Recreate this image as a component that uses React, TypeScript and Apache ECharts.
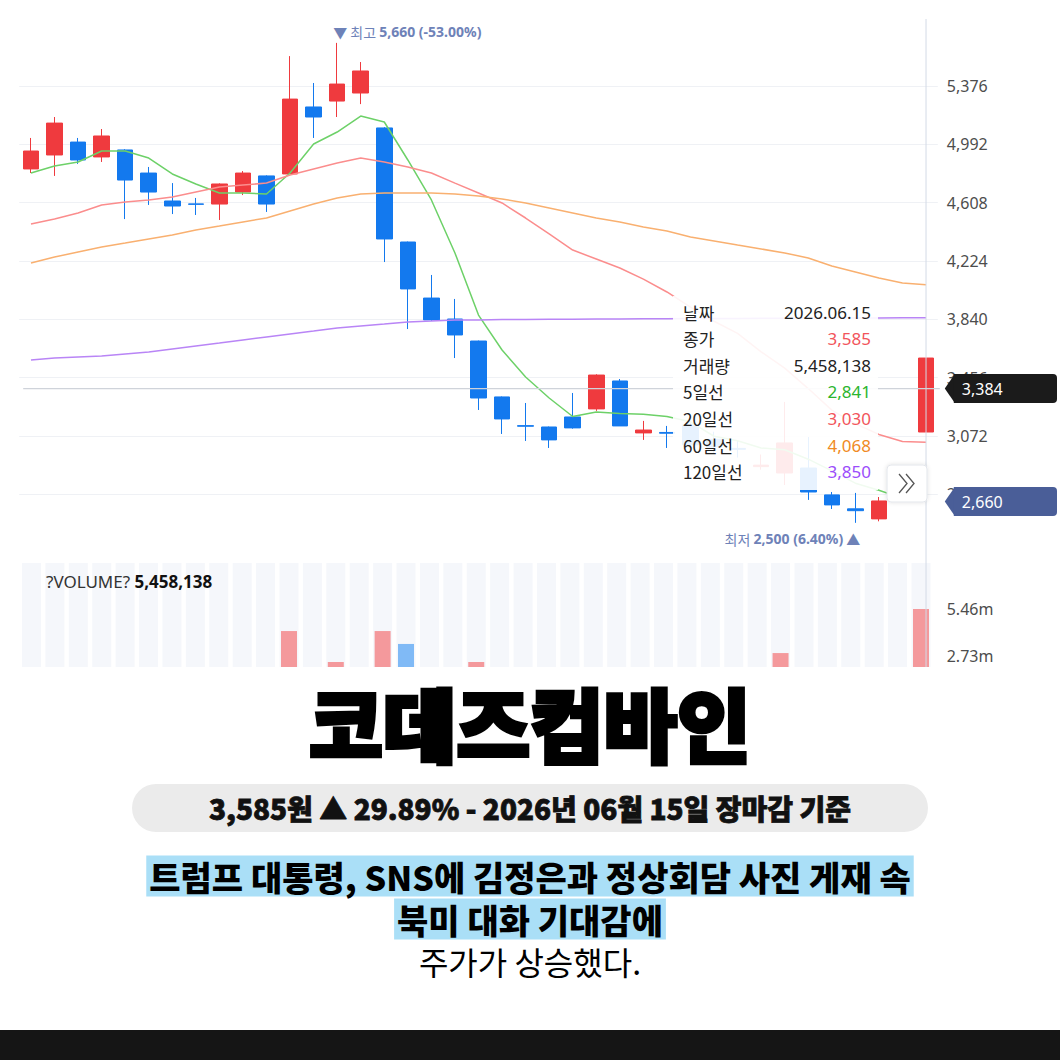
import React, { useEffect, useRef } from "react";
import * as echarts from "echarts";

// ---------- DATA ----------
const dates = [
  "2026.04.22", "2026.04.23", "2026.04.24", "2026.04.27", "2026.04.28", "2026.04.29", "2026.04.30",
  "2026.05.01", "2026.05.04", "2026.05.05", "2026.05.06", "2026.05.07", "2026.05.08", "2026.05.11",
  "2026.05.12", "2026.05.13", "2026.05.14", "2026.05.15", "2026.05.18", "2026.05.19", "2026.05.20",
  "2026.05.21", "2026.05.22", "2026.05.25", "2026.05.26", "2026.05.27", "2026.05.28", "2026.05.29",
  "2026.06.01", "2026.06.02", "2026.06.03", "2026.06.04", "2026.06.05", "2026.06.08", "2026.06.09",
  "2026.06.10", "2026.06.11", "2026.06.12", "2026.06.15",
];

// [open, close, low, high]
const ohlc = [
  [4830, 4948, 4803, 5034], [4922, 5132, 4784, 5172], [5007, 4889, 4863, 5034], [4909, 5047, 4876, 5093],
  [4955, 4757, 4500, 4960], [4803, 4678, 4593, 4843], [4619, 4586, 4533, 4737], [4600, 4597, 4527, 4639],
  [4599, 4731, 4494, 4735], [4678, 4803, 4658, 4816], [4784, 4599, 4547, 4788], [4797, 5290, 4797, 5573],
  [5238, 5172, 5034, 5396], [5277, 5389, 5172, 5660], [5330, 5475, 5257, 5534], [5100, 4369, 4217, 5105],
  [4349, 4040, 3776, 4352], [3980, 3836, 3830, 4132], [3842, 3737, 3585, 3974], [3697, 3322, 3243, 3700],
  [3329, 3184, 3085, 3332], [3140, 3136, 3039, 3289], [3131, 3046, 2993, 3134], [3197, 3125, 3120, 3355],
  [3250, 3473, 3237, 3478], [3434, 3138, 3138, 3447], [3092, 3111, 3046, 3171], [3095, 3090, 2993, 3138],
  [3144, 3013, 2990, 3160], [3050, 3000, 2960, 3100], [2990, 2984, 2930, 3040], [2870, 2880, 2850, 2950],
  [2828, 3026, 2749, 3296], [2861, 2703, 2651, 3065], [2684, 2618, 2591, 2703], [2592, 2580, 2500, 2697],
  [2526, 2644, 2510, 2670], [2660, 2760, 2650, 2870], [3098, 3585, 3098, 3585],
];

const ma5 = [
  4803, 4849, 4876, 4948, 4948, 4902, 4797, 4731, 4672, 4672, 4665, 4803, 4994, 5073, 5178, 5139, 4889, 4626,
  4277, 3868, 3638, 3460, 3322, 3200, 3230, 3220, 3215, 3200, 3165, 3070, 3040, 2993, 2981, 2919, 2842, 2761,
  2714, 2661, 2841,
];
const ma20 = [
  4468, 4500, 4540, 4593, 4612, 4626, 4645, 4678, 4711, 4724, 4737, 4790, 4830, 4869, 4902, 4876, 4843, 4803,
  4737, 4672, 4606, 4507, 4402, 4296, 4237, 4178, 4105, 4020, 3920, 3827, 3747, 3626, 3519, 3384, 3242, 3152,
  3082, 3035, 3030,
];
const ma60 = [
  4211, 4250, 4283, 4316, 4342, 4369, 4395, 4428, 4454, 4481, 4507, 4553, 4599, 4639, 4665, 4672, 4672, 4672,
  4665, 4652, 4632, 4606, 4573, 4540, 4507, 4481, 4448, 4421, 4382, 4356, 4329, 4303, 4277, 4244, 4191, 4152,
  4112, 4079, 4068,
];
const ma120 = [
  3572, 3585, 3592, 3599, 3612, 3625, 3645, 3665, 3684, 3704, 3724, 3744, 3763, 3783, 3796, 3809, 3823, 3829,
  3836, 3836, 3838, 3839, 3840, 3841, 3842, 3842, 3843, 3844, 3845, 3846, 3846, 3847, 3847, 3848, 3848, 3849,
  3849, 3850, 3850,
];

const volumes = [
  620000, 980000, 540000, 710000, 830000, 460000, 380000, 290000, 650000, 520000, 480000, 4180000, 1650000,
  2380000, 1900000, 4180000, 3430000, 1200000, 1100000, 2380000, 900000, 700000, 560000, 640000, 1800000,
  1300000, 420000, 380000, 450000, 400000, 350000, 330000, 2900000, 820000, 600000, 700000, 750000, 1500000,
  5458138,
];
// 1 = red (up) bar, 0 = blue (down) bar
const volUp = [
  1, 1, 0, 1, 0, 0, 0, 0, 1, 1, 0, 1, 0, 1, 1, 1, 0, 0, 0, 1, 0, 0, 0, 0, 1, 0, 1, 0, 0, 0, 0, 1, 1, 0, 0, 0,
  1, 1, 1,
];

const volTicks = [2730000, 5460000];
const crossPrice = 3384;
const refPrice = 2660;
const maxPctText = "-53.00%";
const minPctText = "6.40%";

const tooltipLabels = ["날짜", "종가", "거래량", "5일선", "20일선", "60일선", "120일선"];

const titleText = "코데즈컴바인";
const pillText = "3,585원 ▲ 29.89% - 2026년 06월 15일 장마감 기준";
const headline1 = "트럼프 대통령, SNS에 김정은과 정상회담 사진 게재 속";
const headline2 = "북미 대화 기대감에";
const headline3 = "주가가 상승했다.";

export default function App() {
  const ref = useRef<HTMLDivElement>(null);

  useEffect(() => {
    document.body.style.margin = "0";
    const chart = echarts.init(ref.current!, null, { renderer: "svg" });
    const FONT = "'Noto Sans', 'Noto Sans CJK KR', sans-serif";
    const KFONT = "'Noto Sans CJK KR', 'Noto Sans', sans-serif";
    const UP = "#ef3a3e";
    const DOWN = "#1379ee";
    const fmt = (v: number) => v.toLocaleString("en-US");

    const priceGrid = { left: 19.2, top: 27.7, width: 918.6, height: 524.9 };
    const volGrid = { left: 19.8, top: 563, width: 912.9, height: 104 };

    const lineSeries = (name: string, data: number[], color: string) => ({
      name,
      type: "line",
      xAxisIndex: 0,
      yAxisIndex: 0,
      data,
      symbol: "none",
      showSymbol: false,
      z: 3,
      lineStyle: { width: 1.5, color },
      itemStyle: { color },
    });

    chart.setOption({
      animation: false,
      backgroundColor: "#ffffff",
      grid: [
        { ...priceGrid, containLabel: false, outerBoundsMode: "none" },
        { ...volGrid, containLabel: false, outerBoundsMode: "none" },
      ],
      xAxis: [
        { type: "category", data: dates, gridIndex: 0, show: false, boundaryGap: true },
        { type: "category", data: dates, gridIndex: 1, show: false, boundaryGap: true },
        { type: "category", data: dates, gridIndex: 1, show: false, boundaryGap: true },
      ],
      yAxis: [
        {
          type: "value",
          gridIndex: 0,
          position: "right",
          min: 2304,
          max: 5760,
          interval: 384,
          axisLine: { show: false },
          axisTick: { show: false },
          axisLabel: {
            margin: 9,
            color: "#4d4d4d",
            fontSize: 16,
            fontFamily: FONT,
            showMinLabel: false,
            showMaxLabel: false,
            formatter: (v: number) => fmt(v),
          },
          splitLine: { lineStyle: { color: "#eff1f5", width: 1 }, showMinLine: false, showMaxLine: false },
        },
        {
          type: "value",
          gridIndex: 1,
          position: "right",
          min: 2090000,
          max: 8135000,
          axisLine: { show: false },
          axisTick: { show: false },
          splitLine: { show: false },
          axisLabel: {
            customValues: volTicks,
            margin: 14,
            color: "#4d4d4d",
            fontSize: 16,
            fontFamily: FONT,
            formatter: (v: number) => (v / 1e6).toFixed(2) + "m",
          },
        },
        { type: "value", gridIndex: 1, min: 0, max: 1, show: false },
      ],
      series: [
        {
          name: "bg",
          type: "bar",
          xAxisIndex: 2,
          yAxisIndex: 2,
          data: dates.map(() => 1),
          barWidth: 19,
          silent: true,
          z: 1,
          itemStyle: { color: "#f5f7fb" },
        },
        {
          name: "volume",
          type: "bar",
          xAxisIndex: 1,
          yAxisIndex: 1,
          clip: true,
          barWidth: 16,
          z: 2,
          data: volumes.map((v, i) => ({
            value: v,
            itemStyle: { color: volUp[i] ? "#f4999c" : "#80baf6" },
          })),
        },
        {
          name: "price",
          type: "candlestick",
          xAxisIndex: 0,
          yAxisIndex: 0,
          data: ohlc,
          barWidth: 16,
          z: 2,
          itemStyle: { color: UP, color0: DOWN, borderColor: UP, borderColor0: DOWN, borderWidth: 1 },
        },
        lineSeries("MA5", ma5, "#6dd168"),
        lineSeries("MA20", ma20, "#fb8d8d"),
        lineSeries("MA60", ma60, "#f9b070"),
        lineSeries("MA120", ma120, "#b985f6"),
      ],
    });

    const px = (i: number, v: number) => chart.convertToPixel({ gridIndex: 0 }, [i, v]) as number[];
    const last = dates.length - 1;

    let maxI = 0;
    let minI = 0;
    ohlc.forEach((d, i) => {
      if (d[3] > ohlc[maxI][3]) maxI = i;
      if (d[2] < ohlc[minI][2]) minI = i;
    });
    const maxPt = px(maxI, ohlc[maxI][3]);
    const minPt = px(minI, ohlc[minI][2]);
    const lastPt = px(last, crossPrice);
    const refPt = px(last, refPrice);
    const vx = lastPt[0];
    const gridRight = priceGrid.left + priceGrid.width;
    const tagX = gridRight + 7;

    const tooltipValues = [
      dates[last],
      fmt(ohlc[last][1]),
      fmt(volumes[last]),
      fmt(ma5[last]),
      fmt(ma20[last]),
      fmt(ma60[last]),
      fmt(ma120[last]),
    ];
    const tooltipColors = ["#222", "#f2545b", "#222", "#2bb52e", "#f2545b", "#f08a24", "#9b4dfb"];

    const graphics: any[] = [];

    // crosshair
    graphics.push({
      type: "line",
      z: 50,
      silent: true,
      shape: { x1: vx, y1: 19, x2: vx, y2: volGrid.top + volGrid.height },
      style: { stroke: "#d3dae6", lineWidth: 1 },
    });
    graphics.push({
      type: "line",
      z: 50,
      silent: true,
      shape: { x1: priceGrid.left + 4, y1: lastPt[1], x2: gridRight + 2, y2: lastPt[1] },
      style: { stroke: "#cfd3da", lineWidth: 1.2 },
    });

    // max / min annotations
    graphics.push({
      type: "text",
      z: 60,
      x: maxPt[0] - 4,
      y: maxPt[1] - 11,
      style: {
        text: `{a|▼ 최고 }{b|${fmt(ohlc[maxI][3])} (${maxPctText})}`,
        align: "left",
        verticalAlign: "middle",
        rich: {
          a: { fontSize: 14, fontFamily: KFONT, fill: "#6e82b8" },
          b: { fontSize: 14, fontFamily: FONT, fontWeight: "bold", fill: "#6e82b8" },
        },
      },
    });
    graphics.push({
      type: "text",
      z: 60,
      x: minPt[0] + 5,
      y: minPt[1] + 16,
      style: {
        text: `{a|최저 }{b|${fmt(ohlc[minI][2])} (${minPctText})}{a| ▲}`,
        align: "right",
        verticalAlign: "middle",
        rich: {
          a: { fontSize: 14, fontFamily: KFONT, fill: "#6e82b8" },
          b: { fontSize: 14, fontFamily: FONT, fontWeight: "bold", fill: "#6e82b8" },
        },
      },
    });

    // tooltip box
    graphics.push({
      type: "rect",
      z: 70,
      silent: true,
      shape: { x: 673, y: 296, width: 205, height: 194 },
      style: { fill: "rgba(255,255,255,0.9)" },
    });
    tooltipLabels.forEach((lab, k) => {
      const y = 312 + k * 26.6;
      graphics.push({
        type: "text",
        z: 71,
        x: 683,
        y,
        style: { text: lab, fontSize: 17, fontFamily: KFONT, fill: "#222", align: "left", verticalAlign: "middle" },
      });
      graphics.push({
        type: "text",
        z: 71,
        x: 871,
        y,
        style: {
          text: tooltipValues[k],
          fontSize: 17,
          fontFamily: FONT,
          fill: tooltipColors[k],
          align: "right",
          verticalAlign: "middle",
        },
      });
    });

    // ">>" button
    const bx = vx - 39;
    graphics.push({
      type: "rect",
      z: 72,
      shape: { x: bx, y: 465, width: 40, height: 37, r: 4 },
      style: { fill: "#ffffff", stroke: "#e3e6eb", lineWidth: 1, shadowBlur: 4, shadowColor: "rgba(0,0,0,0.12)" },
    });
    [0, 7].forEach((dx) => {
      graphics.push({
        type: "polyline",
        z: 73,
        shape: { points: [[bx + 12 + dx, 474], [bx + 20 + dx, 483.5], [bx + 12 + dx, 493]] },
        style: { stroke: "#555", lineWidth: 1.3, fill: null },
      });
    });

    // price tags
    const tag = (cy: number, label: string, color: string) => {
      graphics.push({
        type: "polygon",
        z: 80,
        shape: { points: [[tagX, cy], [tagX + 10, cy - 14.5], [tagX + 10, cy + 14.5]] },
        style: { fill: color },
      });
      graphics.push({
        type: "rect",
        z: 80,
        shape: { x: tagX + 9, y: cy - 14.5, width: 1057 - tagX - 9, height: 29, r: [0, 4, 4, 0] },
        style: { fill: color },
      });
      graphics.push({
        type: "text",
        z: 81,
        x: tagX + 17,
        y: cy,
        style: { text: label, fontSize: 16, fontFamily: FONT, fill: "#ffffff", align: "left", verticalAlign: "middle" },
      });
    };
    tag(lastPt[1], fmt(crossPrice), "#1b1b1b");
    tag(refPt[1] + 3, fmt(refPrice), "#4a5e98");

    // volume caption
    graphics.push({
      type: "text",
      z: 60,
      x: 46,
      y: 581,
      style: {
        text: `{a|?VOLUME? }{b|${fmt(volumes[last])}}`,
        align: "left",
        verticalAlign: "middle",
        rich: {
          a: { fontSize: 17, fontFamily: FONT, fill: "#333" },
          b: { fontSize: 17, fontFamily: FONT, fontWeight: "bold", fill: "#111" },
        },
      },
    });

    // ---- headline block ----
    graphics.push({
      type: "text",
      z: 90,
      x: 530,
      y: 721,
      style: {
        text: titleText,
        fontSize: 80,
        fontWeight: 900,
        fontFamily: KFONT,
        fill: "#000",
        stroke: "#000",
        lineWidth: 4,
        align: "center",
        verticalAlign: "middle",
      },
    });
    graphics.push({
      type: "rect",
      z: 90,
      shape: { x: 132, y: 784, width: 796, height: 48, r: 24 },
      style: { fill: "#ebebeb" },
    });
    graphics.push({
      type: "text",
      z: 91,
      x: 530,
      y: 808,
      style: {
        text: pillText,
        fontSize: 28,
        fontWeight: 900,
        fontFamily: KFONT,
        fill: "#111",
        stroke: "#111",
        lineWidth: 0.8,
        align: "center",
        verticalAlign: "middle",
      },
    });
    [headline1, headline2].forEach((t, k) => {
      graphics.push({
        type: "text",
        z: 91,
        x: 530,
        y: 876 + k * 43,
        style: {
          text: t,
          fontSize: 34,
          lineHeight: 41,
          fontWeight: 900,
          fontFamily: KFONT,
          fill: "#000",
          align: "center",
          verticalAlign: "middle",
          backgroundColor: "#aadff7",
          padding: [0, 3, 0, 3],
        },
      });
    });
    graphics.push({
      type: "text",
      z: 91,
      x: 530,
      y: 961,
      style: {
        text: headline3,
        fontSize: 32,
        fontWeight: 400,
        fontFamily: KFONT,
        fill: "#000",
        align: "center",
        verticalAlign: "middle",
      },
    });
    graphics.push({
      type: "rect",
      z: 90,
      shape: { x: 0, y: 1030, width: 1060, height: 30 },
      style: { fill: "#151515" },
    });

    chart.setOption({ graphic: graphics });

    return () => chart.dispose();
  }, []);

  return <div ref={ref} style={{ width: 1060, height: 1060 }} />;
}
